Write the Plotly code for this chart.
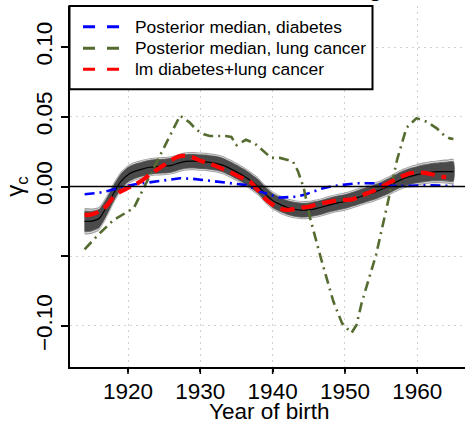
import plotly.graph_objects as go

# ---------------- data ----------------
years = list(range(1914, 1966))
median_total = [-0.0250, -0.0248, -0.0230, -0.0150, -0.0050, 0.0035, 0.0085, 0.0110, 0.0125, 0.0138,
                0.0143, 0.0146, 0.0152, 0.0168, 0.0180, 0.0182, 0.0178, 0.0175, 0.0168, 0.0155,
                0.0132, 0.0105, 0.0075, 0.0040, 0.0000, -0.0055, -0.0100, -0.0128, -0.0150, -0.0163,
                -0.0170, -0.0168, -0.0158, -0.0145, -0.0130, -0.0118, -0.0108, -0.0092, -0.0075, -0.0058,
                -0.0042, -0.0022, 0.0002, 0.0030, 0.0055, 0.0072, 0.0085, 0.0095, 0.0103, 0.0106,
                0.0107, 0.0107]
band_halfwidth = [0.0095, 0.0090, 0.0085, 0.0080, 0.0075, 0.0070, 0.0068, 0.0067, 0.0066, 0.0065,
                  0.0065, 0.0065, 0.0065, 0.0065, 0.0065, 0.0065, 0.0065, 0.0065, 0.0065, 0.0065,
                  0.0065, 0.0065, 0.0065, 0.0065, 0.0065, 0.0065, 0.0065, 0.0065, 0.0065, 0.0065,
                  0.0065, 0.0065, 0.0065, 0.0065, 0.0065, 0.0065, 0.0065, 0.0065, 0.0066, 0.0066,
                  0.0067, 0.0068, 0.0069, 0.0070, 0.0072, 0.0074, 0.0076, 0.0078, 0.0080, 0.0083,
                  0.0086, 0.0090]

lm_years = list(range(1914, 1965))
lm_vals = [-0.0205, -0.0200, -0.0180, -0.0140, -0.0075, -0.0035, -0.0010, 0.0015, 0.0045, 0.0085,
           0.0120, 0.0155, 0.0190, 0.0215, 0.0222, 0.0208, 0.0185, 0.0170, 0.0150, 0.0128,
           0.0108, 0.0080, 0.0055, 0.0030, -0.0030, -0.0090, -0.0130, -0.0158, -0.0168, -0.0162,
           -0.0152, -0.0145, -0.0130, -0.0118, -0.0108, -0.0100, -0.0096, -0.0092, -0.0072, -0.0050,
           -0.0030, -0.0005, 0.0025, 0.0050, 0.0075, 0.0095, 0.0100, 0.0098, 0.0088, 0.0075,
           0.0065]

diab_years = [1914, 1916, 1917.3, 1919, 1921, 1923.5, 1925.3, 1927.2, 1929, 1930.4, 1933.6, 1936.4,
              1938.3, 1941, 1943.3, 1944.5, 1946.6, 1948.4, 1951.6, 1953.9, 1956.2, 1958.5, 1961.8, 1965]
diab_vals = [-0.0056, -0.0045, -0.0030, -0.0006, 0.0016, 0.0035, 0.0047, 0.0059, 0.0055, 0.0047,
             0.0027, 0.0010, -0.0037, -0.0080, -0.0073, -0.0058, -0.0018, 0.0004, 0.0023, 0.0023,
             0.0006, 0.0004, 0.0009, 0.0004]

lung_years = [1914, 1916, 1918, 1920.8, 1923, 1925, 1927.2, 1928.5, 1929.5, 1930.5, 1931.3, 1933.5,
              1934.3, 1935, 1936.3, 1937.5, 1939, 1939.8, 1941, 1942.8, 1943.5, 1944.3, 1945.2, 1946.6,
              1948.4, 1949.6, 1950.9, 1951.6, 1952.3, 1954.3, 1955.8, 1957.2, 1958.5, 1959.9, 1961.3,
              1962.7, 1963.8, 1964.5, 1965]
lung_vals = [-0.0450, -0.0340, -0.0240, -0.0155, 0.0075, 0.0280, 0.0508, 0.0460, 0.0405, 0.0375,
             0.0362, 0.0362, 0.0355, 0.0297, 0.0335, 0.0310, 0.0245, 0.0205, 0.0205, 0.0180,
             0.0110, -0.0010, -0.0230, -0.0500, -0.0825, -0.0980, -0.1050, -0.0992, -0.0837, -0.0490,
             -0.0145, 0.0190, 0.0420, 0.0490, 0.0464, 0.0417, 0.0362, 0.0345, 0.0340]

legend_labels = ["Posterior median, diabetes", "Posterior median, lung cancer", "lm diabetes+lung cancer"]
legend_colors = ["#0000FF", "#556B2F", "#FF0000"]

x_ticks = [1920, 1930, 1940, 1950, 1960]
y_ticks = [-0.10, -0.05, 0.00, 0.05, 0.10]
y_ticktext = ["\u22120.10", " ", "0.00", "0.05", "0.10"]

# ---------------- figure ----------------
W, H = 465, 423
ML, MR, MT, MB = 70, 0, 6, 56
PW, PH = W - ML - MR, H - MT - MB


def px_x(p):
    return (p - ML) / PW


def px_y(p):
    return (H - MB - p) / PH


FONT = "Liberation Sans, Arial, Helvetica, sans-serif"

fig = go.Figure()

# band layers (outer to inner)
layers = [(1.00, "#a0a0a0"), (0.90, "#dedede"), (0.82, "#707070"), (0.74, "#4a4a4a")]
for frac, col in layers:
    up = [m + frac * h for m, h in zip(median_total, band_halfwidth)]
    lo = [m - frac * h for m, h in zip(median_total, band_halfwidth)]
    fig.add_trace(go.Scatter(
        x=years + years[::-1], y=up + lo[::-1], mode="lines",
        line=dict(width=0, shape="spline", smoothing=0.6), fill="toself", fillcolor=col,
        hoverinfo="skip", showlegend=False))

fig.add_trace(go.Scatter(x=years, y=median_total, mode="lines",
                         line=dict(color="black", width=1.2, shape="spline", smoothing=0.6),
                         showlegend=False))

fig.add_trace(go.Scatter(x=diab_years, y=diab_vals, mode="lines",
                         line=dict(color=legend_colors[0], width=2.6, dash="10px,5px,2px,5px"),
                         showlegend=False))
fig.add_trace(go.Scatter(x=lung_years, y=lung_vals, mode="lines",
                         line=dict(color=legend_colors[1], width=2.6, dash="10px,5px,2px,5px"),
                         showlegend=False))
fig.add_trace(go.Scatter(x=lm_years, y=lm_vals, mode="lines",
                         line=dict(color=legend_colors[2], width=4.2, dash="14px,7px", shape="spline",
                                   smoothing=0.6),
                         showlegend=False))

shapes = []
# horizontal zero line
shapes.append(dict(type="line", xref="paper", yref="y", x0=0, x1=1, y0=0, y1=0,
                   line=dict(color="black", width=1.5), layer="above"))
# x tick marks (full length, labels sit closer to axis as in R)
for xv in x_ticks:
    shapes.append(dict(type="line", xref="x", yref="paper", x0=xv, x1=xv,
                       y0=px_y(367), y1=px_y(374), line=dict(color="black", width=1.5)))
# legend box
shapes.append(dict(type="rect", xref="paper", yref="paper",
                   x0=px_x(69.5), x1=px_x(372.5), y0=px_y(89.3), y1=px_y(6),
                   line=dict(color="black", width=2), fillcolor="white", layer="above"))
annotations = []
row_y = [26.7, 48.3, 69.3]
for lab, col, ry in zip(legend_labels, legend_colors, row_y):
    shapes.append(dict(type="line", xref="paper", yref="paper",
                       x0=px_x(83), x1=px_x(119.5), y0=px_y(ry), y1=px_y(ry),
                       line=dict(color=col, width=3, dash="12px,12px"), layer="above"))
    annotations.append(dict(text=lab, xref="paper", yref="paper", x=px_x(133), y=px_y(ry),
                            xanchor="left", yanchor="middle", showarrow=False,
                            font=dict(size=17.4, color="black", family=FONT)))

# x axis title
annotations.append(dict(text="Year of birth", xref="paper", yref="paper", x=px_x(269), y=px_y(411),
                        xanchor="center", yanchor="middle", showarrow=False,
                        font=dict(size=22.5, color="black", family=FONT)))

# title (mostly cut off at top, as in the reference)
annotations.append(dict(text="<b>Cohort effects diabetes, lung cancer</b>", xref="paper", yref="paper",
                        x=px_x(269), y=px_y(3), xanchor="center", yanchor="bottom", showarrow=False,
                        font=dict(size=22, color="black", family=FONT)))

fig.update_layout(
    width=W, height=H,
    margin=dict(l=ML, r=MR, t=MT, b=MB, pad=0),
    paper_bgcolor="white", plot_bgcolor="white",
    font=dict(family=FONT, size=22.5, color="black"),
    shapes=shapes, annotations=annotations,
    showlegend=False,
)
fig.update_xaxes(
    range=[1911.98, 1966.6], tickvals=x_ticks, ticktext=[str(v) for v in x_ticks],
    ticks="outside", ticklen=3, tickwidth=1.5, tickcolor="black",
    showline=True, linewidth=2, linecolor="black", mirror=False,
    showgrid=True, gridcolor="#d0d0d0", gridwidth=1, griddash="2px,4px",
    zeroline=False, tickfont=dict(size=22.5),
)
fig.update_yaxes(
    range=[-0.1294, 0.1294], tickvals=y_ticks, ticktext=y_ticktext, tickangle=-90,
    ticks="outside", ticklen=7, tickwidth=1.5, tickcolor="black",
    showline=True, linewidth=2, linecolor="black", mirror=False,
    showgrid=True, gridcolor="#d0d0d0", gridwidth=1, griddash="2px,4px",
    zeroline=False, tickfont=dict(size=22.5),
    title=dict(text="\u03b3<sub>c</sub>", font=dict(size=24), standoff=0),
)

fig.write_html("out.html")
